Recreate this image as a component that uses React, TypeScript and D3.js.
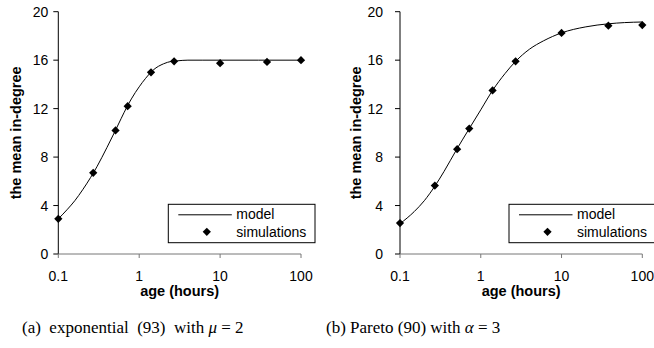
import React from "react";
import * as d3 from "d3";

// ---- data ----
const simAge = [0.1, 0.27, 0.51, 0.72, 1.4, 2.7, 10, 38, 100];
const simExp = [2.9, 6.7, 10.2, 12.2, 15.0, 15.9, 15.75, 15.85, 16.0];
const simPareto = [2.55, 5.65, 8.65, 10.35, 13.5, 15.9, 18.25, 18.85, 18.9];

const modelAgeExp = [0.1, 0.13, 0.16, 0.2, 0.25, 0.3, 0.4, 0.5, 0.6, 0.7, 0.8, 1, 1.2, 1.5, 2, 2.5, 3, 4, 6, 10, 30, 100];
const modelExp = [2.9, 3.7, 4.4, 5.3, 6.3, 7.2, 8.8, 10.1, 11.2, 12.1, 12.8, 13.8, 14.5, 15.2, 15.7, 15.9, 15.95, 16.0, 16.0, 16.0, 16.0, 16.0];

const modelAgePareto = [0.1, 0.15, 0.2, 0.27, 0.35, 0.5, 0.72, 1, 1.4, 2, 2.7, 4, 6, 10, 20, 38, 60, 100];
const modelPareto = [2.5, 3.5, 4.4, 5.6, 6.8, 8.6, 10.35, 11.9, 13.5, 14.9, 15.9, 16.9, 17.6, 18.25, 18.75, 19.0, 19.1, 19.15];

const xTicks = [0.1, 1, 10, 100];
const xTickLabels = ["0.1", "1", "10", "100"];
const yTicks = [0, 4, 8, 12, 16, 20];

const yLabel = "the mean in-degree";
const xLabel = "age (hours)";
const legendLabels = ["model", "simulations"];

const SANS = "'Liberation Sans', Arial, sans-serif";
const SERIF = "'Liberation Serif', 'Times New Roman', serif";

type PanelProps = {
  x0: number;
  x1: number;
  sims: number[];
  modelX: number[];
  modelY: number[];
  yLabelGap: number;
  yTickGap: number;
  legendX: number;
  legendW: number;
};

function Panel({ x0, x1, sims, modelX, modelY, yLabelGap, yTickGap, legendX, legendW }: PanelProps) {
  const yTop = 11.7;
  const yBot = 254;
  const x = d3.scaleLog().domain([0.1, 100]).range([x0, x1]);
  const y = d3.scaleLinear().domain([0, 20]).range([yBot, yTop]);
  const line = d3
    .line<number>()
    .x((_, i) => x(modelX[i]))
    .y((d) => y(d))
    .curve(d3.curveMonotoneX);
  const diamond = d3.symbol().type(d3.symbolSquare).size(34)();
  const cx = (x0 + x1) / 2;
  const legTop = 204.3;
  const legH = 38.4;
  return (
    <g>
      {/* y axis */}
      <line x1={x0} x2={x0} y1={yTop} y2={yBot} stroke="#000" strokeWidth={1} />
      {yTicks.map((t) => (
        <g key={t}>
          <line x1={x0 - 5} x2={x0} y1={y(t)} y2={y(t)} stroke="#000" strokeWidth={1} />
          <text
            x={x0 - yTickGap}
            y={y(t)}
            dy="0.36em"
            textAnchor="end"
            fontFamily={SANS}
            fontSize={14}
            fill="#000"
          >
            {t}
          </text>
        </g>
      ))}
      {/* x axis */}
      <line x1={x0} x2={x1} y1={yBot} y2={yBot} stroke="#777" strokeWidth={1} />
      {xTicks.map((t, i) => (
        <g key={t}>
          <line x1={x(t)} x2={x(t)} y1={yBot} y2={yBot + 4} stroke="#777" strokeWidth={1} />
          <text x={x(t)} y={280.5} textAnchor="middle" fontFamily={SANS} fontSize={14} fill="#000">
            {xTickLabels[i]}
          </text>
        </g>
      ))}
      {/* axis titles */}
      <text
        transform={`translate(${x0 - yLabelGap},${(yTop + yBot) / 2}) rotate(-90)`}
        textAnchor="middle"
        fontFamily={SANS}
        fontWeight="bold"
        fontSize={14.5}
        fill="#000"
      >
        {yLabel}
      </text>
      <text x={cx} y={296} textAnchor="middle" fontFamily={SANS} fontWeight="bold" fontSize={14.5} fill="#000">
        {xLabel}
      </text>
      {/* model curve */}
      <path d={line(modelY) || ""} fill="none" stroke="#000" strokeWidth={1} />
      {/* simulations */}
      {sims.map((v, i) => (
        <path key={i} d={diamond || ""} transform={`translate(${x(simAge[i])},${y(v)}) rotate(45)`} fill="#000" />
      ))}
      {/* legend */}
      <rect x={legendX} y={legTop} width={legendW} height={legH} fill="#fff" stroke="#000" strokeWidth={1} />
      <line x1={legendX + 10} x2={legendX + 63.5} y1={legTop + 10.5} y2={legTop + 10.5} stroke="#000" strokeWidth={1} />
      <text x={legendX + 68} y={legTop + 14.8} fontFamily={SANS} fontSize={14} fill="#000">
        {legendLabels[0]}
      </text>
      <path d={diamond || ""} transform={`translate(${legendX + 38.5},${legTop + 27.5}) rotate(45)`} fill="#000" />
      <text x={legendX + 68} y={legTop + 32.3} fontFamily={SANS} fontSize={14} fill="#000">
        {legendLabels[1]}
      </text>
    </g>
  );
}

export default function App() {
  return (
    <svg
      width={654}
      height={348}
      style={{ position: "absolute", left: 0, top: 0, background: "#fff" }}
    >
      <rect x={0} y={0} width={654} height={348} fill="#fff" />
      <Panel
        x0={58.3}
        x1={301}
        sims={simExp}
        modelX={modelAgeExp}
        modelY={modelExp}
        yLabelGap={37.3}
        yTickGap={10}
        legendX={168.3}
        legendW={146.7}
      />
      <Panel
        x0={400}
        x1={642.3}
        sims={simPareto}
        modelX={modelAgePareto}
        modelY={modelPareto}
        yLabelGap={39}
        yTickGap={17}
        legendX={509}
        legendW={160}
      />
      <text x={22} y={333} fontFamily={SERIF} fontSize={17} fill="#000">
        (a)&#160; exponential&#160; (93)&#160; with <tspan fontStyle="italic">μ</tspan> = 2
      </text>
      <text x={326} y={333} fontFamily={SERIF} fontSize={17} fill="#000">
        (b) Pareto (90) with <tspan fontStyle="italic">α</tspan> = 3
      </text>
    </svg>
  );
}
